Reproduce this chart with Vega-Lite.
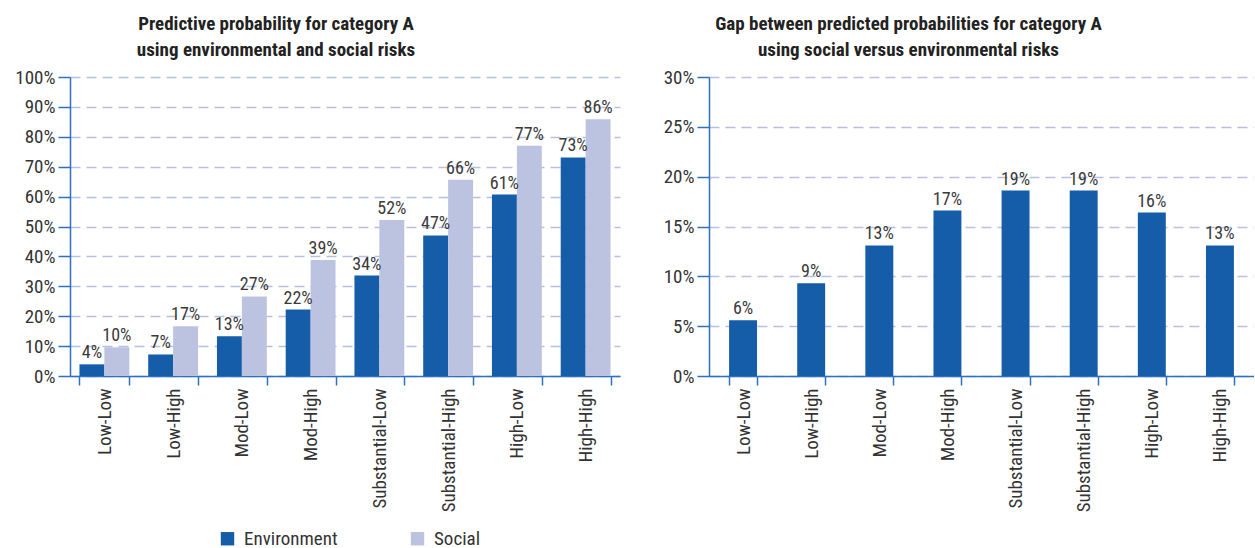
{
  "$schema": "https://vega.github.io/schema/vega-lite/v6.json",
  "padding": {"left": 14, "top": 15, "right": 0, "bottom": 0},
  "background": "white",
  "bounds": "flush",
  "spacing": 89,
  "config": {
    "view": {"stroke": null},
    "font": "Liberation Sans Narrow, Roboto Condensed, DejaVu Sans Condensed, sans-serif",
    "axis": {
      "labelFont": "Liberation Sans Narrow, Roboto Condensed, DejaVu Sans Condensed, sans-serif",
      "labelFontSize": 19,
      "labelColor": "#333333",
      "domainColor": "#2e6fc0",
      "domainWidth": 1.5,
      "tickColor": "#2e6fc0",
      "tickWidth": 1.5,
      "tickSize": 12,
      "gridColor": "#b7bfe3",
      "gridDash": [10, 6],
      "gridWidth": 1.5,
      "title": null
    },
    "axisX": {"grid": false, "tickBand": "extent", "labelAngle": 270, "labelAlign": "right", "labelBaseline": "middle", "labelPadding": 3, "tickSize": 9},
    "axisY": {"grid": true, "labelPadding": 3},
    "title": {
      "font": "Liberation Sans Narrow, Roboto Condensed, DejaVu Sans Condensed, sans-serif",
      "fontSize": 19,
      "fontWeight": "bold",
      "color": "#222222",
      "lineHeight": 26,
      "anchor": "middle",
      "frame": "group",
      "offset": 8
    }
  },
  "datasets": {
    "main": [
      {"cat": "Low-Low", "series": "Environment", "value": 0.039},
      {"cat": "Low-Low", "series": "Social", "value": 0.096},
      {"cat": "Low-High", "series": "Environment", "value": 0.072},
      {"cat": "Low-High", "series": "Social", "value": 0.166},
      {"cat": "Mod-Low", "series": "Environment", "value": 0.133},
      {"cat": "Mod-Low", "series": "Social", "value": 0.266},
      {"cat": "Mod-High", "series": "Environment", "value": 0.222},
      {"cat": "Mod-High", "series": "Social", "value": 0.388},
      {"cat": "Substantial-Low", "series": "Environment", "value": 0.336},
      {"cat": "Substantial-Low", "series": "Social", "value": 0.522},
      {"cat": "Substantial-High", "series": "Environment", "value": 0.47},
      {"cat": "Substantial-High", "series": "Social", "value": 0.656},
      {"cat": "High-Low", "series": "Environment", "value": 0.607},
      {"cat": "High-Low", "series": "Social", "value": 0.77},
      {"cat": "High-High", "series": "Environment", "value": 0.731},
      {"cat": "High-High", "series": "Social", "value": 0.859}
    ],
    "gap": [
      {"cat": "Low-Low", "value": 0.056},
      {"cat": "Low-High", "value": 0.093},
      {"cat": "Mod-Low", "value": 0.131},
      {"cat": "Mod-High", "value": 0.166},
      {"cat": "Substantial-Low", "value": 0.186},
      {"cat": "Substantial-High", "value": 0.186},
      {"cat": "High-Low", "value": 0.164},
      {"cat": "High-High", "value": 0.131}
    ]
  },
  "hconcat": [
    {
      "width": 550,
      "height": 299,
      "title": {"text": ["Predictive probability for category A", "using environmental and social risks"], "dx": -69},
      "data": {"name": "main"},
      "encoding": {
        "x": {
          "field": "cat", "type": "nominal",
          "sort": ["Low-Low", "Low-High", "Mod-Low", "Mod-High", "Substantial-Low", "Substantial-High", "High-Low", "High-High"],
          "scale": {"paddingInner": 0.275, "paddingOuter": 0.1375}
        },
        "xOffset": {"field": "series", "type": "nominal", "sort": ["Environment", "Social"], "scale": {"paddingInner": 0, "paddingOuter": 0}},
        "y": {
          "field": "value", "type": "quantitative",
          "scale": {"domain": [0, 1], "nice": false},
          "axis": {"format": ".0%", "values": [0, 0.1, 0.2, 0.3, 0.4, 0.5, 0.6, 0.7, 0.8, 0.9, 1]}
        }
      },
      "layer": [
        {
          "mark": {"type": "bar"},
          "encoding": {
            "color": {
              "field": "series", "type": "nominal",
              "scale": {"domain": ["Environment", "Social"], "range": ["#155ca9", "#bcc3e1"]},
              "legend": {
                "orient": "none", "legendX": 148, "legendY": 452, "direction": "horizontal",
                "title": null, "symbolType": "square", "symbolSize": 180, "symbolStrokeWidth": 0,
                "labelFontSize": 19, "labelColor": "#333333", "columnPadding": 70, "labelOffset": 7,
                "labelFont": "Liberation Sans Narrow, Roboto Condensed, DejaVu Sans Condensed, sans-serif"
              }
            }
          }
        },
        {
          "mark": {"type": "text", "baseline": "bottom", "dy": -2, "fontSize": 18, "color": "#3a3a3a"},
          "encoding": {"text": {"field": "value", "type": "quantitative", "format": ".0%"}}
        }
      ]
    },
    {
      "width": 545,
      "height": 299,
      "title": {"text": ["Gap between predicted probabilities for category A", "using social versus environmental risks"], "dx": -73},
      "data": {"name": "gap"},
      "encoding": {
        "x": {
          "field": "cat", "type": "nominal",
          "sort": ["Low-Low", "Low-High", "Mod-Low", "Mod-High", "Substantial-Low", "Substantial-High", "High-Low", "High-High"],
          "scale": {"paddingInner": 0.59, "paddingOuter": 0.295}
        },
        "y": {
          "field": "value", "type": "quantitative",
          "scale": {"domain": [0, 0.3], "nice": false},
          "axis": {"format": ".0%", "values": [0, 0.05, 0.1, 0.15, 0.2, 0.25, 0.3]}
        }
      },
      "layer": [
        {"mark": {"type": "bar", "color": "#155ca9"}},
        {
          "mark": {"type": "text", "baseline": "bottom", "dy": -2, "fontSize": 18, "color": "#3a3a3a"},
          "encoding": {"text": {"field": "value", "type": "quantitative", "format": ".0%"}}
        }
      ]
    }
  ]
}
